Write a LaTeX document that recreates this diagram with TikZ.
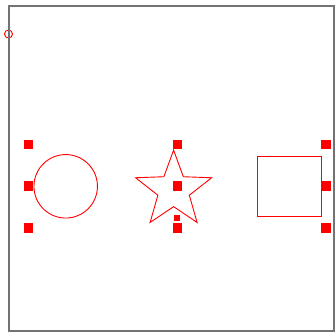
\documentclass[tikz,border=0pt]{standalone}
\usepackage{tikz}
\usetikzlibrary{shapes.geometric}

\begin{document}
\begin{tikzpicture}[x=1pt,y=-1pt,
    shapeline/.style={draw=red,line width=0.9pt,inner sep=0pt},
    marker/.style={fill=red,inner sep=0pt,minimum size=9.5pt}]
  \useasboundingbox (0,0) rectangle (336,335);
  \node[shapeline,circle,minimum size=8pt] (origin) at (8.5,34) {};
  \draw[black!55,line width=2pt] (8.5,5.5) rectangle (333.5,330.8);
  \node[shapeline,circle,minimum size=63.5pt] (disc) at (65.7,186.3) {};
  \node[shapeline,star,star points=5,star point ratio=2.42,minimum size=80pt] (starshape) at (173.6,190.1) {};
  \node[shapeline,rectangle,minimum width=63.7pt,minimum height=60pt] (box) at (289.1,186.7) {};
  \node[marker] (leftn) at (28.5,144.5) {};
  \node[marker] (leftc) at (28.5,186) {};
  \node[marker] (lefts) at (28.5,228) {};
  \node[marker] (midn) at (177.5,144.5) {};
  \node[marker] (midc) at (177.5,186) {};
  \node[marker] (mids) at (177.5,228) {};
  \node[marker,minimum size=6pt] (midmark) at (177.3,218.3) {};
  \node[marker] (rightn) at (326,144.5) {};
  \node[marker] (rightc) at (326,186) {};
  \node[marker] (rights) at (326,228) {};
\end{tikzpicture}
\end{document}
